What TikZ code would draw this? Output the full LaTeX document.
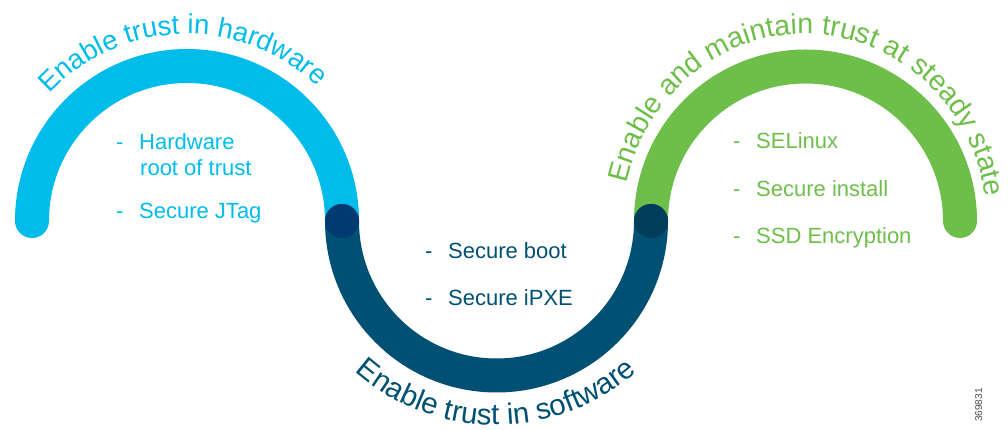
\documentclass[tikz,border=0pt]{standalone}
\usepackage{fontspec}
\setmainfont{Liberation Sans}
\usetikzlibrary{decorations.text}
\definecolor{cyanc}{HTML}{00BCEB}
\definecolor{greenc}{HTML}{6EBE4A}
\definecolor{darkc}{HTML}{005073}
\definecolor{juncl}{HTML}{003A70}
\definecolor{juncr}{HTML}{003D5B}
\newcommand{\ctitle}[1]{\fontsize{#1}{30}\selectfont}
\tikzset{
  x=1pt,y=1pt,
  band/.style={line width=34pt,line cap=round},
  item/.style={anchor=base west,inner sep=0pt,font=\fontsize{22}{26}\selectfont},
  dashmark/.style={anchor=base west,inner sep=0pt,font=\fontsize{22}{26}\selectfont},
  junction/.style={circle,inner sep=0pt,minimum size=34pt},
  curved/.style={decorate,decoration={text along path,text align=center,text={#1}}}
}
\begin{document}
\begin{tikzpicture}
\useasboundingbox (0,0) rectangle (1008,430);
% arcs
\draw[band,cyanc] (32,209) arc[start angle=180,end angle=0,radius=155];
\draw[band,greenc] (651,209) arc[start angle=180,end angle=0,radius=154.5];
\draw[band,darkc] (342,209) arc[start angle=180,end angle=360,radius=154.5];
\node[junction,fill=juncl] (jl) at (342,209) {};
\node[junction,fill=juncr] (jr) at (651,209) {};
% curved titles
\path[curved={|\ctitle{27.5}\color{cyanc}|Enable trust in hardware}] (187,209) ++(183:187) arc[start angle=183,end angle=0,radius=187];
\path[curved={|\ctitle{28.5}\color{greenc}|Enable and maintain trust at steady state}] (805,203) ++(186:183 and 193) arc[start angle=186,end angle=-10,x radius=183,y radius=193];
\path[curved={|\ctitle{29.5}\color{darkc}|Enable trust in software}] (283,218) arc[start angle=180,end angle=360,radius=213];
% left list
\node[dashmark,text=cyanc] (d1) at (116,280) {-};
\node[item,text=cyanc] (t1) at (139,280) {Hardware};
\node[item,text=cyanc] (t2) at (140,254) {root of trust};
\node[dashmark,text=cyanc] (d2) at (116,211) {-};
\node[item,text=cyanc] (t3) at (139,211) {Secure JTag};
% middle list
\node[dashmark,text=darkc] (d3) at (425,171) {-};
\node[item,text=darkc] (t4) at (448,171) {Secure boot};
\node[dashmark,text=darkc] (d4) at (425,124) {-};
\node[item,text=darkc] (t5) at (448,124) {Secure iPXE};
% right list
\node[dashmark,text=greenc] (d5) at (733,281) {-};
\node[item,text=greenc] (t6) at (756,281) {SELinux};
\node[dashmark,text=greenc] (d6) at (733,233) {-};
\node[item,text=greenc] (t7) at (756,233) {Secure install};
\node[dashmark,text=greenc] (d7) at (733,186) {-};
\node[item,text=greenc] (t8) at (756,186) {SSD Encryption};
% figure number
\node[rotate=90,anchor=base,inner sep=0pt,text=black!70,font=\fontsize{10}{11}\selectfont] (num) at (982,25) {369831};
\end{tikzpicture}
\end{document}
